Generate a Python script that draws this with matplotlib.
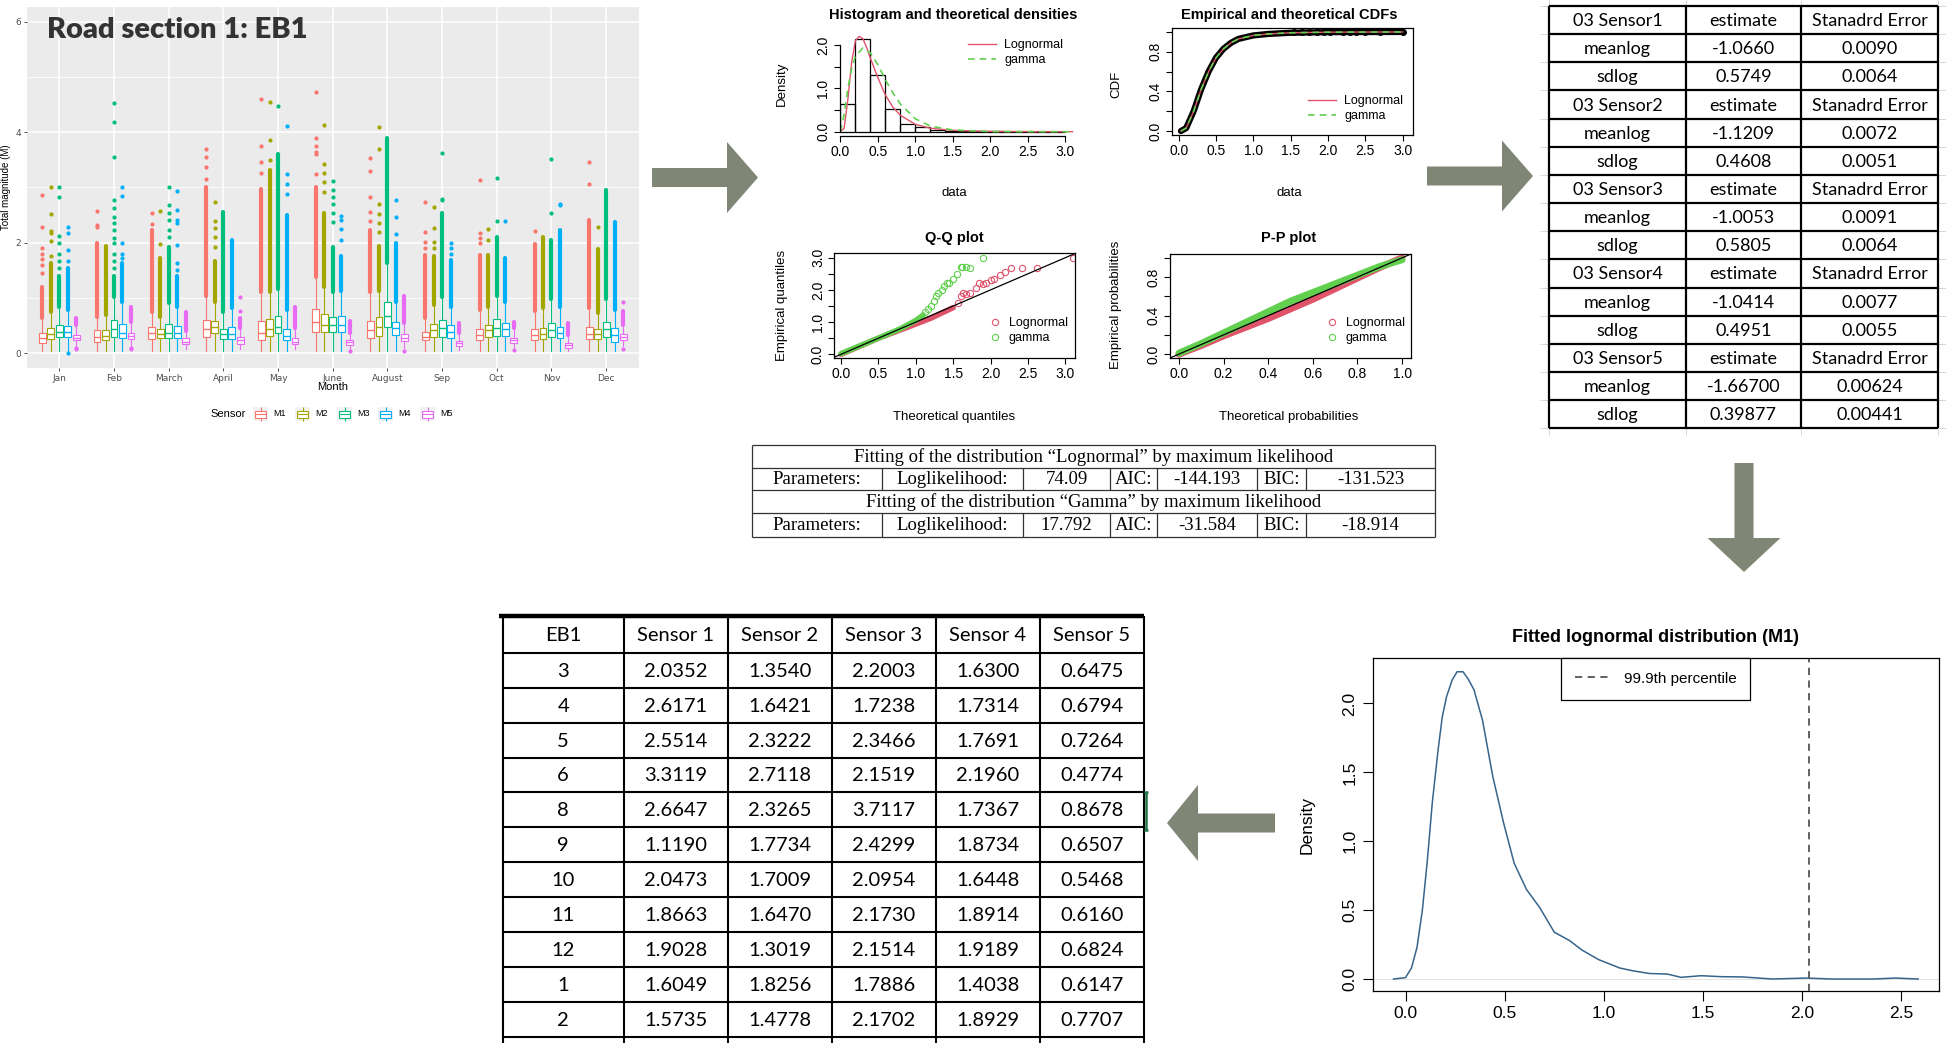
import matplotlib
matplotlib.use("Agg")
import matplotlib.pyplot as plt
from matplotlib import font_manager
from matplotlib.patches import Polygon, Rectangle
from matplotlib.lines import Line2D
import numpy as np

# ---------------- data ----------------
months = ["Jan", "Feb", "March", "April", "May", "June", "August", "Sep", "Oct", "Nov", "Dec"]
sensors = ["M1", "M2", "M3", "M4", "M5"]
sensor_colors = ["#F8766D", "#A3A500", "#00BF7D", "#00B0F6", "#E76BF3"]

# box stats, one row per month, one column per sensor (M1..M5)
box_q1 = [
    [0.19, 0.25, 0.29, 0.30, 0.23], [0.21, 0.23, 0.30, 0.27, 0.25], [0.25, 0.27, 0.27, 0.27, 0.17],
    [0.30, 0.36, 0.25, 0.25, 0.17], [0.24, 0.31, 0.36, 0.23, 0.17], [0.38, 0.38, 0.38, 0.38, 0.15],
    [0.27, 0.31, 0.47, 0.33, 0.22], [0.23, 0.29, 0.30, 0.27, 0.13], [0.23, 0.29, 0.31, 0.31, 0.18],
    [0.23, 0.25, 0.29, 0.27, 0.10], [0.26, 0.25, 0.30, 0.21, 0.24]]
box_med = [
    [0.28, 0.35, 0.39, 0.39, 0.28], [0.30, 0.31, 0.44, 0.37, 0.31], [0.36, 0.34, 0.37, 0.37, 0.21],
    [0.43, 0.47, 0.34, 0.34, 0.23], [0.37, 0.43, 0.47, 0.31, 0.21], [0.56, 0.51, 0.51, 0.51, 0.20],
    [0.41, 0.47, 0.68, 0.45, 0.28], [0.30, 0.42, 0.45, 0.38, 0.18], [0.33, 0.41, 0.45, 0.43, 0.23],
    [0.32, 0.35, 0.42, 0.36, 0.14], [0.35, 0.34, 0.43, 0.32, 0.30]]
box_q3 = [
    [0.37, 0.45, 0.51, 0.49, 0.32], [0.41, 0.42, 0.60, 0.52, 0.37], [0.48, 0.43, 0.52, 0.49, 0.27],
    [0.60, 0.58, 0.43, 0.47, 0.29], [0.58, 0.62, 0.67, 0.44, 0.27], [0.79, 0.70, 0.66, 0.68, 0.24],
    [0.59, 0.66, 0.93, 0.56, 0.35], [0.39, 0.53, 0.60, 0.51, 0.22], [0.44, 0.51, 0.61, 0.54, 0.28],
    [0.43, 0.46, 0.55, 0.48, 0.18], [0.47, 0.43, 0.56, 0.45, 0.34]]
whisk_lo = [
    [0.03, 0.03, 0.03, 0.03, 0.12], [0.03, 0.03, 0.03, 0.03, 0.12], [0.03, 0.03, 0.03, 0.03, 0.08],
    [0.03, 0.03, 0.03, 0.03, 0.08], [0.03, 0.03, 0.03, 0.03, 0.07], [0.03, 0.03, 0.03, 0.03, 0.08],
    [0.03, 0.03, 0.03, 0.03, 0.10], [0.03, 0.03, 0.03, 0.03, 0.05], [0.03, 0.03, 0.03, 0.03, 0.10],
    [0.03, 0.03, 0.03, 0.03, 0.03], [0.03, 0.03, 0.03, 0.03, 0.12]]
whisk_hi = [
    [0.61, 0.71, 0.81, 0.75, 0.48], [0.63, 0.66, 0.98, 0.90, 0.54], [0.72, 0.63, 0.87, 0.81, 0.37],
    [1.01, 0.90, 0.71, 0.78, 0.43], [1.08, 1.07, 1.14, 0.75, 0.42], [1.35, 1.16, 1.07, 1.10, 0.33],
    [1.07, 1.10, 1.60, 0.90, 0.51], [0.60, 0.84, 0.99, 0.81, 0.33], [0.75, 0.81, 1.01, 0.90, 0.42],
    [0.73, 0.78, 0.95, 0.81, 0.30], [0.78, 0.69, 0.95, 0.75, 0.47]]
# top of the dense run of outlier dots above each whisker
dense_top = [
    [1.20, 1.63, 1.39, 1.54, 0.63], [2.00, 1.94, 1.39, 1.63, 0.84], [2.23, 1.72, 1.93, 1.39, 0.75],
    [3.00, 1.66, 2.56, 2.05, 0.63], [2.98, 3.31, 3.60, 2.50, 0.83], [3.00, 2.53, 1.93, 1.75, 0.59],
    [2.23, 1.94, 3.89, 1.99, 1.04], [1.78, 1.75, 2.53, 1.69, 0.54], [1.78, 1.78, 2.11, 1.72, 0.57],
    [1.98, 2.11, 2.05, 2.23, 0.54], [2.41, 1.88, 2.95, 2.38, 0.77]]
# separate outlier dots
sparse_out = [
    [[1.45, 1.6, 1.7, 1.8, 1.9, 2.29, 2.86], [1.75, 2.03, 2.17, 2.22, 2.52, 3.01],
     [1.54, 1.66, 1.8, 1.99, 2.13, 2.83, 3.0], [1.67, 1.87, 2.18, 2.29, 0.01], [0.07, 0.09]],
    [[2.29, 2.32, 2.57], [], [1.54, 1.66, 1.8, 1.99, 2.08, 2.23, 2.35, 2.47, 2.62, 2.77, 3.55, 4.19, 4.53],
     [1.72, 1.8, 2.0, 2.85, 3.0], [0.07, 0.09]],
    [[2.33, 2.53], [1.97, 2.57], [2.11, 2.23, 2.41, 2.53, 2.68, 3.01],
     [1.5, 1.63, 1.95, 2.35, 2.41, 2.59, 2.94], []],
    [[3.16, 3.37, 3.55, 3.70], [1.93, 2.1, 2.27, 2.4, 2.74], [], [], [0.77, 1.01]],
    [[3.27, 3.46, 3.76, 4.60], [3.5, 3.86, 4.55], [4.47], [2.89, 3.07, 3.24, 4.11], []],
    [[3.25, 3.6, 3.65, 3.76, 3.89, 4.73], [2.92, 3.1, 3.27, 3.42, 4.14], [2.38, 2.54, 2.71, 2.83, 2.95, 3.12],
     [2.05, 2.25, 2.41, 2.48], [0.04]],
    [[2.4, 2.56, 2.82, 3.3, 3.54], [2.2, 2.35, 2.52, 2.7, 3.7, 4.1], [], [2.15, 2.47, 2.77], [0.03]],
    [[1.9, 2.02, 2.2, 2.74], [1.9, 2.02, 2.26, 2.64], [2.77, 2.8, 3.63], [1.8, 1.9, 2.0], []],
    [[1.99, 2.08, 2.17, 3.13], [2.05, 2.24], [2.39, 3.18], [2.39], [0.06]],
    [[2.21], [], [2.54, 3.51], [2.68, 2.71], []],
    [[3.06, 3.47], [2.29], [], [], [0.93, 0.07]]]

# fitdist panels
hist_left = [0.0, 0.2, 0.4, 0.6, 0.8, 1.0, 1.2, 1.4, 1.6, 1.8, 2.0, 2.2, 2.4, 2.6, 2.8]
hist_dens = [0.65, 2.15, 1.32, 0.52, 0.17, 0.10, 0.05, 0.02, 0.01, 0.005, 0.005, 0.003, 0.003, 0.002, 0.002]
dens_ln_x = [0, 0.05, 0.1, 0.15, 0.2, 0.25, 0.3, 0.35, 0.4, 0.5, 0.6, 0.7, 0.8, 1.0, 1.2, 1.5, 2.0, 3.1]
dens_ln_y = [0, 0.08, 0.75, 1.6, 2.1, 2.2, 2.15, 1.95, 1.7, 1.25, 0.85, 0.57, 0.38, 0.17, 0.08, 0.03, 0.005, 0]
dens_gm_x = [0, 0.05, 0.1, 0.15, 0.2, 0.3, 0.4, 0.5, 0.6, 0.7, 0.8, 1.0, 1.2, 1.5, 2.0, 3.1]
dens_gm_y = [0, 0.4, 1.0, 1.45, 1.75, 1.93, 1.82, 1.55, 1.2, 0.9, 0.64, 0.3, 0.13, 0.04, 0.003, 0]

cdf_x = [0.03, 0.1, 0.2, 0.3, 0.4, 0.5, 0.6, 0.7, 0.8, 1.0, 1.2, 1.5, 2.0, 3.0]
cdf_y = [0.0, 0.03, 0.2, 0.42, 0.6, 0.74, 0.83, 0.89, 0.93, 0.965, 0.98, 0.992, 0.998, 1.0]
ecdf_tail_x = [1.55, 1.65, 1.75, 1.85, 1.95, 2.03, 2.2, 2.3, 2.38, 2.5, 2.7, 3.0]

qq_ln_band_x = [0, 0.5, 0.9, 1.2, 1.5]
qq_ln_band_y = [0, 0.5, 0.85, 1.12, 1.45]
qq_ln_x = [1.56, 1.6, 1.63, 1.67, 1.73, 1.8, 1.85, 1.9, 1.94, 2.0, 2.05, 2.12, 2.2, 2.28, 2.42, 2.62, 3.1]
qq_ln_y = [1.6, 1.82, 1.9, 1.88, 1.9, 2.05, 2.2, 2.17, 2.22, 2.3, 2.35, 2.45, 2.55, 2.68, 2.68, 2.68, 3.0]
qq_gm_band_x = [0, 0.5, 0.8, 1.0, 1.1]
qq_gm_band_y = [0.02, 0.5, 0.8, 1.05, 1.22]
qq_gm_x = [1.12, 1.16, 1.2, 1.24, 1.27, 1.3, 1.35, 1.38, 1.42, 1.45, 1.5, 1.55, 1.6, 1.62, 1.67, 1.72, 1.9]
qq_gm_y = [1.3, 1.42, 1.5, 1.65, 1.8, 1.9, 2.0, 2.12, 2.2, 2.2, 2.35, 2.5, 2.7, 2.72, 2.7, 2.68, 3.0]

pp_x = [0, 0.1, 0.2, 0.3, 0.4, 0.5, 0.6, 0.7, 0.8, 0.9, 1.0]
pp_ln_y = [0, 0.09, 0.19, 0.28, 0.37, 0.47, 0.57, 0.68, 0.79, 0.9, 1.0]
pp_gm_y = [0.01, 0.11, 0.22, 0.33, 0.44, 0.55, 0.64, 0.73, 0.82, 0.91, 0.98]

# fitted parameter table
fit_sensors = ["03 Sensor1", "03 Sensor2", "03 Sensor3", "03 Sensor4", "03 Sensor5"]
meanlog_est = ["-1.0660", "-1.1209", "-1.0053", "-1.0414", "-1.66700"]
meanlog_se = ["0.0090", "0.0072", "0.0091", "0.0077", "0.00624"]
sdlog_est = ["0.5749", "0.4608", "0.5805", "0.4951", "0.39877"]
sdlog_se = ["0.0064", "0.0051", "0.0064", "0.0055", "0.00441"]

# goodness of fit table
fit_dists = ["Lognormal", "Gamma"]
fit_loglik = ["74.09", "17.792"]
fit_aic = ["-144.193", "-31.584"]
fit_bic = ["-131.523", "-18.914"]

# 99.9th percentile table
eb1_months = ["3", "4", "5", "6", "8", "9", "10", "11", "12", "1", "2"]
sensor1 = ["2.0352", "2.6171", "2.5514", "3.3119", "2.6647", "1.1190", "2.0473", "1.8663", "1.9028", "1.6049", "1.5735"]
sensor2 = ["1.3540", "1.6421", "2.3222", "2.7118", "2.3265", "1.7734", "1.7009", "1.6470", "1.3019", "1.8256", "1.4778"]
sensor3 = ["2.2003", "1.7238", "2.3466", "2.1519", "3.7117", "2.4299", "2.0954", "2.1730", "2.1514", "1.7886", "2.1702"]
sensor4 = ["1.6300", "1.7314", "1.7691", "2.1960", "1.7367", "1.8734", "1.6448", "1.8914", "1.9189", "1.4038", "1.8929"]
sensor5 = ["0.6475", "0.6794", "0.7264", "0.4774", "0.8678", "0.6507", "0.5468", "0.6160", "0.6824", "0.6147", "0.7707"]

# fitted density of M1
m1_x = [-0.06, 0.0, 0.03, 0.058, 0.085, 0.11, 0.135, 0.164, 0.185, 0.207, 0.235, 0.26, 0.29, 0.315, 0.345,
        0.388, 0.44, 0.495, 0.548, 0.61, 0.676, 0.75, 0.826, 0.89, 0.975, 1.08, 1.145, 1.23, 1.32, 1.39,
        1.49, 1.59, 1.70, 1.85, 2.02, 2.15, 2.36, 2.47, 2.585]
m1_y = [0.0, 0.01, 0.08, 0.23, 0.5, 0.86, 1.28, 1.66, 1.9, 2.05, 2.17, 2.23, 2.23, 2.18, 2.10,
        1.88, 1.47, 1.13, 0.84, 0.65, 0.52, 0.34, 0.28, 0.21, 0.14, 0.08, 0.06, 0.04, 0.036, 0.012,
        0.024, 0.017, 0.015, 0.0, 0.007, 0.0, 0.0, 0.007, 0.0]
p999 = 2.037

# ---------------- layout ----------------
W, H = 1946, 1043
fig = plt.figure(figsize=(W / 100, H / 100), dpi=100)

avail = {f.name for f in font_manager.fontManager.ttflist}
NARROW = "Liberation Sans Narrow" if "Liberation Sans Narrow" in avail else "Lato"
SANS = "Liberation Sans"
RED, GREEN = "#DF536B", "#61D04F"
ARROW = "#7F8676"


def px_axes(x0, y0, x1, y1):
    return fig.add_axes([x0 / W, 1 - y1 / H, (x1 - x0) / W, (y1 - y0) / H])


ov = fig.add_axes([0, 0, 1, 1])
ov.set_xlim(0, W)
ov.set_ylim(H, 0)
ov.axis("off")
ov.set_zorder(10)
ov.patch.set_alpha(0)


def line(x0, y0, x1, y1, lw=1.2, color="black"):
    ov.plot([x0, x1], [y0, y1], color=color, lw=lw, solid_capstyle="butt")


def r_axes(ax, fs=10, family=SANS):
    for sp in ax.spines.values():
        sp.set_linewidth(0.9)
    ax.tick_params(direction="out", length=4.5, width=0.8, labelsize=fs, pad=2)
    for lab in ax.get_xticklabels() + ax.get_yticklabels():
        lab.set_family(family)
    plt.setp(ax.get_yticklabels(), rotation=90, va="center")


# ---- boxplot panel ----
ax = px_axes(26.5, 7, 639, 368)
ax.set_facecolor("#EBEBEB")
for sp in ax.spines.values():
    sp.set_visible(False)
ax.set_xlim(0.4, 11.6)
ax.set_ylim(-0.27, 6.27)
ax.set_xticks(range(1, 12))
ax.set_xticklabels(months)
ax.set_yticks([0, 2, 4, 6])
ax.set_yticks([1, 3, 5], minor=True)
ax.grid(which="major", color="white", lw=1.1)
ax.grid(which="minor", axis="y", color="white", lw=0.55)
ax.set_axisbelow(True)
ax.tick_params(which="major", length=2.5, width=0.6, color="#333333", labelsize=6.5,
               labelcolor="#4D4D4D", pad=1.5)
ax.tick_params(which="minor", length=0)
offsets = np.array([-2, -1, 0, 1, 2]) * 0.155
for m in range(len(months)):
    for s in range(len(sensors)):
        p = m + 1 + offsets[s]
        c = sensor_colors[s]
        st = dict(med=box_med[m][s], q1=box_q1[m][s], q3=box_q3[m][s],
                  whislo=whisk_lo[m][s], whishi=whisk_hi[m][s], fliers=[])
        ax.bxp([st], positions=[p], widths=0.125, showcaps=False, showfliers=False,
               patch_artist=True, manage_ticks=False,
               boxprops=dict(facecolor="white", edgecolor=c, lw=0.8),
               medianprops=dict(color=c, lw=1.0), whiskerprops=dict(color=c, lw=0.8))
        ax.plot([p, p], [whisk_hi[m][s] + 0.03, dense_top[m][s]], color=c, lw=3.0,
                solid_capstyle="round", zorder=1.8)
        pts = sparse_out[m][s]
        if pts:
            ax.scatter([p] * len(pts), pts, s=9, color=c, lw=0, zorder=2)
ax.text(0.034, 0.935, "Road section 1: EB1", transform=ax.transAxes, family="Lato",
        fontweight="heavy", fontsize=21, color="#333333", va="center", ha="left")
ov.text(333, 387, "Month", ha="center", va="center", fontsize=8, family=SANS)
ov.text(6, 187, "Total magnitude (M)", ha="center", va="center", rotation=90, fontsize=7, family=SANS)
# legend
ov.text(210, 414, "Sensor", ha="left", va="center", fontsize=8, family=SANS)
key_x = [253, 295, 337, 378, 420]
for kx, lab, c in zip(key_x, sensors, sensor_colors):
    ov.add_patch(Rectangle((kx, 407), 15, 14, facecolor="#F2F2F2", edgecolor="none"))
    ov.add_patch(Rectangle((kx + 2, 410.5), 11, 7, facecolor="white", edgecolor=c, lw=0.8))
    line(kx + 2, 414, kx + 13, 414, lw=0.8, color=c)
    line(kx + 7.5, 407, kx + 7.5, 410.5, lw=0.8, color=c)
    line(kx + 7.5, 417.5, kx + 7.5, 421, lw=0.8, color=c)
    ov.text(kx + 20, 414, lab, ha="left", va="center", fontsize=6.5, family=SANS)

# ---- histogram and densities ----
ax = px_axes(839.5, 32.5, 1075, 135.5)
ax.bar(hist_left, hist_dens, width=0.2, align="edge", fill=False, edgecolor="black", lw=0.9)
ax.plot(dens_ln_x, dens_ln_y, color=RED, lw=1.0, label="Lognormal")
ax.plot(dens_gm_x, dens_gm_y, color=GREEN, lw=1.2, ls=(0, (4, 3)), label="gamma")
ax.set_xlim(-0.012, 3.134)
ax.set_ylim(-0.088, 2.29)
ax.spines["top"].set_visible(False)
ax.spines["right"].set_visible(False)
ax.spines["left"].set_bounds(0, 2)
ax.spines["bottom"].set_bounds(0, 3)
ax.set_xticks(np.arange(0, 3.01, 0.5))
ax.set_xticklabels(["0.0", "0.5", "1.0", "1.5", "2.0", "2.5", "3.0"])
ax.set_yticks([0, 0.5, 1, 1.5, 2])
ax.set_yticklabels(["0.0", "", "1.0", "", "2.0"])
r_axes(ax)
ax.legend(loc="upper left", bbox_to_anchor=(968 / W, 1 - 39 / H), bbox_transform=fig.transFigure,
          frameon=False, handlelength=2.2, handletextpad=0.7, labelspacing=0.25,
          borderpad=0, borderaxespad=0, prop=dict(family=SANS, size=9))
ov.text(953, 15, "Histogram and theoretical densities", ha="center", va="center", fontsize=10.5,
        fontweight="bold", family=SANS)
ov.text(954, 193, "data", ha="center", va="center", fontsize=9.5, family=SANS)
ov.text(782, 84, "Density", ha="center", va="center", rotation=90, fontsize=9.5, family=SANS)

# ---- empirical and theoretical CDFs ----
ax = px_axes(1172, 28, 1413, 135)
ax.plot(cdf_x, cdf_y, color="black", lw=4.5, solid_capstyle="round")
ax.scatter(ecdf_tail_x, [1.0] * len(ecdf_tail_x), s=16, color="black", zorder=3)
ax.plot(cdf_x, cdf_y, color=RED, lw=1.0, label="Lognormal", zorder=4)
ax.plot(cdf_x, cdf_y, color=GREEN, lw=1.2, ls=(0, (4, 3)), label="gamma", zorder=4)
ax.set_xlim(-0.09, 3.14)
ax.set_ylim(-0.04, 1.04)
ax.set_xticks(np.arange(0, 3.01, 0.5))
ax.set_xticklabels(["0.0", "0.5", "1.0", "1.5", "2.0", "2.5", "3.0"])
ax.set_yticks([0, 0.2, 0.4, 0.6, 0.8, 1.0])
ax.set_yticklabels(["0.0", "", "0.4", "", "0.8", ""])
r_axes(ax)
ax.legend(loc="upper left", bbox_to_anchor=(1308 / W, 1 - 95 / H), bbox_transform=fig.transFigure,
          frameon=False, handlelength=2.2, handletextpad=0.7, labelspacing=0.25,
          borderpad=0, borderaxespad=0, prop=dict(family=SANS, size=9))
ov.text(1289, 15, "Empirical and theoretical CDFs", ha="center", va="center", fontsize=10.5,
        fontweight="bold", family=SANS)
ov.text(1289, 193, "data", ha="center", va="center", fontsize=9.5, family=SANS)
ov.text(1116, 84, "CDF", ha="center", va="center", rotation=90, fontsize=9.5, family=SANS)

# ---- Q-Q plot ----
ax = px_axes(834, 253, 1075, 358)
ax.plot(qq_ln_band_x, qq_ln_band_y, color=RED, lw=4, solid_capstyle="round")
ax.plot(qq_ln_x, qq_ln_y, "o", mfc="none", mec=RED, ms=4.5, mew=0.8)
ax.plot(qq_gm_band_x, qq_gm_band_y, color=GREEN, lw=4, solid_capstyle="round")
ax.plot(qq_gm_x, qq_gm_y, "o", mfc="none", mec=GREEN, ms=4.5, mew=0.8)
ax.axline((0, 0), slope=1, color="black", lw=0.9)
ax.set_xlim(-0.094, 3.13)
ax.set_ylim(-0.115, 3.146)
ax.set_xticks(np.arange(0, 3.01, 0.5))
ax.set_xticklabels(["0.0", "0.5", "1.0", "1.5", "2.0", "2.5", "3.0"])
ax.set_yticks([0, 0.5, 1, 1.5, 2, 2.5, 3])
ax.set_yticklabels(["0.0", "", "1.0", "", "2.0", "", "3.0"])
r_axes(ax)
qq_handles = [Line2D([], [], marker="o", ls="none", mfc="none", mec=RED, ms=4.5, mew=0.8),
              Line2D([], [], marker="o", ls="none", mfc="none", mec=GREEN, ms=4.5, mew=0.8)]
ax.legend(qq_handles, ["Lognormal", "gamma"], loc="upper left", bbox_to_anchor=(990 / W, 1 - 317 / H),
          bbox_transform=fig.transFigure, frameon=False, handlelength=0.8, handletextpad=0.7,
          labelspacing=0.25, borderpad=0, borderaxespad=0, prop=dict(family=SANS, size=9))
ov.text(954, 238, "Q-Q plot", ha="center", va="center", fontsize=10.5, fontweight="bold", family=SANS)
ov.text(954, 417, "Theoretical quantiles", ha="center", va="center", fontsize=9.5, family=SANS)
ov.text(782, 305, "Empirical quantiles", ha="center", va="center", rotation=90, fontsize=9.5, family=SANS)

# ---- P-P plot ----
ax = px_axes(1170, 254, 1411, 358)
ax.plot(pp_x, pp_ln_y, color=RED, lw=5, solid_capstyle="round")
ax.plot(pp_x, pp_gm_y, color=GREEN, lw=5, solid_capstyle="round")
ax.axline((0, 0), slope=1, color="black", lw=0.9)
ax.set_xlim(-0.04, 1.04)
ax.set_ylim(-0.04, 1.04)
ax.set_xticks(np.arange(0, 1.01, 0.2))
ax.set_xticklabels(["0.0", "0.2", "0.4", "0.6", "0.8", "1.0"])
ax.set_yticks(np.arange(0, 1.01, 0.2))
ax.set_yticklabels(["0.0", "", "0.4", "", "0.8", ""])
r_axes(ax)
ax.legend(qq_handles, ["Lognormal", "gamma"], loc="upper left", bbox_to_anchor=(1327 / W, 1 - 317 / H),
          bbox_transform=fig.transFigure, frameon=False, handlelength=0.8, handletextpad=0.7,
          labelspacing=0.25, borderpad=0, borderaxespad=0, prop=dict(family=SANS, size=9))
ov.text(1289, 238, "P-P plot", ha="center", va="center", fontsize=10.5, fontweight="bold", family=SANS)
ov.text(1289, 417, "Theoretical probabilities", ha="center", va="center", fontsize=9.5, family=SANS)
ov.text(1116, 305, "Empirical probabilities", ha="center", va="center", rotation=90, fontsize=9.5,
        family=SANS)

# ---- fitted M1 density ----
ax = px_axes(1372.6, 658, 1939, 991)
ax.axhline(0, color="#DDDDDD", lw=0.6)
ax.plot(m1_x, m1_y, color="#36648B", lw=1.1)
ax.axvline(p999, color="#555555", lw=1.3, ls=(0, (4, 3)), label="99.9th percentile")
ax.set_xlim(-0.166, 2.69)
ax.set_ylim(-0.087, 2.33)
ax.set_xticks([0, 0.5, 1.0, 1.5, 2.0, 2.5])
ax.set_xticklabels(["0.0", "0.5", "1.0", "1.5", "2.0", "2.5"])
ax.set_yticks([0, 0.5, 1.0, 1.5, 2.0])
ax.set_yticklabels(["0.0", "0.5", "1.0", "1.5", "2.0"])
r_axes(ax, fs=12.5)
ax.tick_params(length=7, pad=4)
leg = ax.legend(loc="upper center", bbox_to_anchor=(0.5, 1.0), fancybox=False, framealpha=1,
                edgecolor="black", handlelength=2.2, handletextpad=1.0, borderpad=0.9,
                borderaxespad=0, prop=dict(family=SANS, size=11))
leg.get_frame().set_linewidth(0.9)
ov.text(1656, 637, "Fitted lognormal distribution (M1)", ha="center", va="center", fontsize=13,
        fontweight="bold", family=SANS)
ov.text(1307.6, 825, "Density", ha="center", va="center", rotation=90, fontsize=12.5, family=SANS)

# ---- arrows ----
def arrow_poly(pts):
    ov.add_patch(Polygon(pts, closed=True, facecolor=ARROW, edgecolor="none"))


def arrow_h(x_tail, x_tip, yc, shaft=9.5, head=35.5, hl=31):
    d = 1 if x_tip > x_tail else -1
    xb = x_tip - d * hl
    arrow_poly([(x_tail, yc - shaft), (xb, yc - shaft), (xb, yc - head), (x_tip, yc),
                (xb, yc + head), (xb, yc + shaft), (x_tail, yc + shaft)])


def arrow_down(xc, y_tail, y_tip, shaft=9.5, head=36.5, hl=34):
    yb = y_tip - hl
    arrow_poly([(xc - shaft, y_tail), (xc - shaft, yb), (xc - head, yb), (xc, y_tip),
                (xc + head, yb), (xc + shaft, yb), (xc + shaft, y_tail)])


arrow_h(652, 758, 177.5)
arrow_h(1427, 1533, 176)
arrow_down(1744, 463, 572)
arrow_h(1275, 1167, 823, head=38)

# ---- fitted parameter table (top right) ----
rt_cols = [1549, 1686, 1801, 1938]
rt_top, rt_rh = 6, 28.15
for c in rt_cols:
    line(c, 0, c, 435, lw=0.7, color="#D6D6D6")
for i in range(16):
    y = rt_top + i * rt_rh
    line(1540, y, 1946, y, lw=0.7, color="#D6D6D6")
rows = []
for k in range(len(fit_sensors)):
    rows.append([fit_sensors[k], "estimate", "Stanadrd Error"])
    rows.append(["meanlog", meanlog_est[k], meanlog_se[k]])
    rows.append(["sdlog", sdlog_est[k], sdlog_se[k]])
for i in range(len(rows) + 1):
    y = rt_top + i * rt_rh
    line(rt_cols[0], y, rt_cols[-1], y, lw=1.6)
for c in rt_cols:
    line(c, rt_top, c, rt_top + len(rows) * rt_rh, lw=1.6)
for i, r in enumerate(rows):
    yc = rt_top + (i + 0.5) * rt_rh + 1
    for j, txt in enumerate(r):
        ov.text((rt_cols[j] + rt_cols[j + 1]) / 2, yc, txt, ha="center", va="center",
                fontsize=13, family="Lato")

# ---- goodness-of-fit table ----
ft_x0, ft_x1 = 752, 1435
ft_rows = [445, 468, 490, 513, 537]
ft_cols = [752, 882, 1023, 1110, 1157, 1257, 1306, 1435]
for y in ft_rows:
    line(ft_x0, y, ft_x1, y, lw=0.9, color="#333333")
line(ft_x0, ft_rows[0], ft_x0, ft_rows[-1], lw=0.9, color="#333333")
line(ft_x1, ft_rows[0], ft_x1, ft_rows[-1], lw=0.9, color="#333333")
for k in range(len(fit_dists)):
    ya, yb = ft_rows[2 * k + 1], ft_rows[2 * k + 2]
    for c in ft_cols[1:-1]:
        line(c, ya, c, yb, lw=0.9, color="#333333")
    ov.text((ft_x0 + ft_x1) / 2, (ft_rows[2 * k] + ya) / 2 + 1,
            "Fitting of the distribution \u201c%s\u201d by maximum likelihood" % fit_dists[k],
            ha="center", va="center", fontsize=13.5, family="Liberation Serif")
    cells = ["Parameters:", "Loglikelihood:", fit_loglik[k], "AIC:", fit_aic[k], "BIC:", fit_bic[k]]
    for j, txt in enumerate(cells):
        ov.text((ft_cols[j] + ft_cols[j + 1]) / 2, (ya + yb) / 2 + 1, txt, ha="center", va="center",
                fontsize=13.5, family="Liberation Serif")

# ---- 99.9th percentile table (bottom) ----
bt_cols = [502.6, 623.8, 728, 832, 936, 1040, 1143.6]
bt_head_top, bt_head_bot = 616, 652.7
bt_rh = (1037 - bt_head_bot) / len(eb1_months)
line(499, bt_head_top, 1144, bt_head_top, lw=3.2)
for i in range(len(eb1_months) + 1):
    y = bt_head_bot + i * bt_rh
    line(bt_cols[0], y, bt_cols[-1], y, lw=1.5)
for c in bt_cols:
    line(c, bt_head_top, c, H, lw=1.5)
header = ["EB1", "Sensor 1", "Sensor 2", "Sensor 3", "Sensor 4", "Sensor 5"]
for j, txt in enumerate(header):
    ov.text((bt_cols[j] + bt_cols[j + 1]) / 2, (bt_head_top + bt_head_bot) / 2 + 1, txt,
            ha="center", va="center", fontsize=14.5, family=NARROW)
cols_vals = [eb1_months, sensor1, sensor2, sensor3, sensor4, sensor5]
for i in range(len(eb1_months)):
    yc = bt_head_bot + (i + 0.5) * bt_rh + 1
    for j, col in enumerate(cols_vals):
        ov.text((bt_cols[j] + bt_cols[j + 1]) / 2, yc, col[i], ha="center", va="center",
                fontsize=14.5, family=NARROW)
# excel selection mark
line(1146, 792, 1146, 830, lw=1.8, color="#217346")
line(1144, 792, 1148, 792, lw=1.8, color="#217346")
line(1144, 830, 1148, 830, lw=1.8, color="#217346")

fig.savefig("out.png", dpi=100)
